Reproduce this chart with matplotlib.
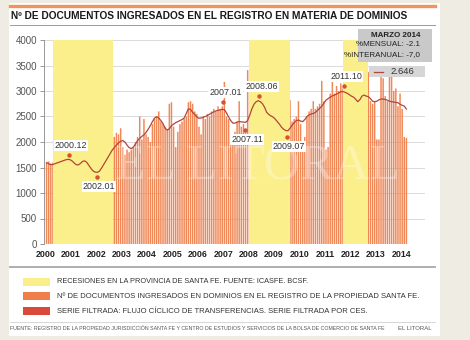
import matplotlib.pyplot as plt
import numpy as np
from matplotlib import font_manager
from matplotlib.patches import Rectangle

# monthly values, Jan 2000 .. Mar 2014
documentos = [
    1600, 1620, 1580, 1600, 1550, 1600, 1650, 1600, 1700, 1650, 1700, 1750,  # 2000
    1600, 1500, 1550, 1600, 1650, 1550, 1600, 1650, 1600, 1550, 1500, 1450,  # 2001
    1300, 1250, 1400, 1450, 1500, 1600, 1650, 1700, 2100, 2180, 2150, 2270,  # 2002
    1900, 1750, 1850, 1800, 1850, 1900, 2000, 2100, 2500, 2050, 2450, 2150,  # 2003
    2100, 2000, 2350, 2450, 2500, 2600, 2400, 2350, 2300, 2250, 2750, 2780,  # 2004
    2300, 1900, 2200, 2350, 2400, 2450, 2500, 2780, 2800, 2750, 2600, 2550,  # 2005
    2300, 2150, 2500, 2450, 2550, 2500, 2600, 2650, 2600, 2700, 2650, 2700,  # 2006
    3180, 2500, 2450, 2100, 2000, 2200, 2400, 2800, 2300, 2350, 2250, 3410,  # 2007
    2500, 2700, 2800, 2850, 2800, 2750, 2650, 2550, 2500, 2450, 2400, 2350,  # 2008
    2400, 2300, 2250, 2200, 2200, 2150, 2200, 2820, 2400, 2450, 2500, 2800,  # 2009
    2350, 1950, 2100, 2500, 2600, 2650, 2800, 2650, 2700, 2750, 3200, 2800,  # 2010
    1850, 1900, 2950, 3200, 2950, 3100, 3000, 3150, 3050, 3000, 2950, 2900,  # 2011
    2900, 2850, 2850, 2800, 2800, 2900, 2950, 2900, 3370, 2800, 2750, 2800,  # 2012
    2050, 2050, 3280, 3250, 2900, 2800, 3310, 3300, 3000, 3050, 2700, 2950,  # 2013
    2650, 2100, 2080,                                                        # 2014
]

serie_filtrada = [
    1595, 1570, 1555, 1560, 1575, 1590, 1605, 1620, 1635, 1650, 1660, 1655,
    1630, 1590, 1555, 1550, 1580, 1620, 1630, 1600, 1540, 1480, 1430, 1410,
    1405, 1430, 1490, 1560, 1630, 1700, 1770, 1840, 1890, 1940, 1985, 2015,
    2030, 2000, 1940, 1890, 1870, 1900, 1960, 2030, 2070, 2110, 2140, 2190,
    2250, 2320, 2400, 2470, 2495, 2470, 2420, 2360, 2270, 2235, 2260, 2320,
    2350, 2380, 2400, 2420, 2440, 2470, 2560, 2650, 2640, 2580, 2540, 2490,
    2465, 2470, 2485, 2500, 2520, 2545, 2570, 2590, 2610, 2620, 2630, 2640,
    2635, 2570, 2490, 2420, 2370, 2370, 2390, 2400, 2395, 2390, 2385, 2420,
    2530, 2650, 2740, 2790, 2810, 2790, 2750, 2680, 2580, 2540, 2510, 2490,
    2450, 2400, 2350, 2290, 2250, 2225, 2220, 2270, 2330, 2380, 2420, 2430,
    2410, 2400, 2440, 2500, 2530, 2550, 2560, 2580, 2620, 2660, 2700, 2760,
    2820, 2850, 2880, 2905, 2920, 2940, 2960, 2985, 2990, 2975, 2955, 2930,
    2900, 2880, 2840, 2790, 2830, 2900, 2920, 2900, 2890, 2850, 2800, 2790,
    2800, 2825, 2845, 2840, 2835, 2820, 2800, 2790, 2785, 2775, 2770, 2740,
    2720, 2703, 2646,
]

recesion_inicio = [2000.31, 2008.00, 2011.71]
recesion_fin = [2002.66, 2009.63, 2012.69]

# turning points marked on the filtered series
puntos_label = ['2000.12', '2002.01', '2007.01', '2007.11', '2008.06', '2009.07', '2011.10']
puntos_x = [2000.92, 2002.02, 2007.0, 2007.85, 2008.42, 2009.5, 2011.75]
puntos_y = [1750, 1320, 2790, 2234, 2907, 2103, 3100]
puntos_arriba = [True, False, True, False, True, False, True]

anios = list(range(2000, 2015))
y_ticks = list(range(0, 4001, 500))

ultimo_valor = '2.646'
resumen = ['MARZO 2014', '%MENSUAL: -2.1', '%INTERANUAL: -7,0']

W, H = 470, 340
BEIGE = '#efece3'
AMARILLO = '#fbef8c'
NARANJA = '#ef8756'
ROJO = '#d94a3a'
LINEA = '#b3453a'

names = {f.name for f in font_manager.fontManager.ttflist}
NARROW = next((n for n in ['Liberation Sans Narrow', 'DejaVu Sans Condensed'] if n in names),
              'Liberation Sans')
SANS = 'Liberation Sans'
plt.rcParams['font.family'] = [SANS, 'DejaVu Sans']


def fx(px):
    return px / W


def fy(py):
    return 1 - py / H


fig = plt.figure(figsize=(W / 100, H / 100), dpi=100)
fig.patch.set_facecolor(BEIGE)
renderer = fig.canvas.get_renderer()


def fit_text(x0, x1, y, s, size, **kw):
    # shrink the font until the string spans no more than x0..x1 pixels
    t = fig.text(fx(x0), fy(y), s, fontsize=size, ha='left', va='center', **kw)
    w = t.get_window_extent(renderer).width
    if w > x1 - x0:
        t.set_fontsize(size * (x1 - x0) / w)
    return t


# white card, orange rule, title rule
fig.patches.append(Rectangle((fx(9), fy(336)), fx(440) - fx(9), fy(3) - fy(336),
                             transform=fig.transFigure, facecolor='white', edgecolor='none', zorder=-1))
fig.add_artist(plt.Line2D([fx(10), fx(435)], [fy(5.5), fy(5.5)], color='#f0935c', lw=2.4))
fit_text(11, 406, 16, 'Nº DE DOCUMENTOS INGRESADOS EN EL REGISTRO EN MATERIA DE DOMINIOS',
         7.6, fontweight='bold', color='#1a1a1a')
fig.add_artist(plt.Line2D([fx(10), fx(435)], [fy(24.5), fy(24.5)], color='#9a9a9a', lw=0.7))

ax = fig.add_axes([fx(44), fy(244), fx(425) - fx(44), fy(40) - fy(244)])
ax.set_facecolor('none')

meses = 2000 + (np.arange(len(documentos)) + 0.5) / 12
barras = ax.bar(meses, documentos, width=0.7 / 12, color=NARANJA, linewidth=0, zorder=2)
for b in barras:
    b.set_snap(False)

for a, b in zip(recesion_inicio, recesion_fin):
    ax.axvspan(a, b, ymin=0, ymax=1, color=AMARILLO, lw=0, zorder=3)

ax.plot(meses, serie_filtrada, color=LINEA, lw=0.9, zorder=5)

for lab, x, y, up in zip(puntos_label, puntos_x, puntos_y, puntos_arriba):
    ax.plot(x, y, 'o', ms=3.2, color='#d4532f', mec='none', zorder=6)
    ax.annotate(lab, (x, y), xytext=(1.5, 6.5 if up else -7), textcoords='offset points',
                ha='center', va='center', fontsize=6.4, color='#333333', zorder=7,
                bbox=dict(boxstyle='square,pad=0.1', fc='white', ec='none'))

ax.set_xlim(1999.94, 2014.94)
ax.set_ylim(0, 4000)
ax.set_yticks(y_ticks)
ax.set_yticklabels([str(v) for v in y_ticks], fontsize=7, color='#555555')
ax.set_xticks(anios)
ax.set_xticklabels([str(a) for a in anios], fontsize=6.4, fontweight='bold', color='#222222')
ax.tick_params(axis='x', length=0, pad=4)
ax.tick_params(axis='y', length=3, width=0.6, color='#888888', pad=2)
ax.grid(axis='y', color='#d4d4d4', lw=0.6, zorder=1)
ax.set_axisbelow(True)
for s in ['top', 'right', 'bottom']:
    ax.spines[s].set_visible(False)
ax.spines['left'].set_color('#888888')
ax.spines['left'].set_linewidth(0.6)

# watermark
ax.text(0.56, 0.38, 'EL LITORAL', transform=ax.transAxes, family='Liberation Serif',
        fontsize=36, color='white', alpha=0.3, ha='center', va='center', zorder=4)

# summary boxes
fig.patches.append(Rectangle((fx(358), fy(62)), fx(432) - fx(358), fy(29) - fy(62),
                             transform=fig.transFigure, facecolor='#c9c9c9', edgecolor='none', zorder=5))
for i, t in enumerate(resumen):
    fig.text(fx(420), fy(35.5 + 9.3 * i), t, fontsize=5.8, family=NARROW,
             fontweight='bold' if i == 0 else 'normal', color='#222222',
             ha='right', va='center', zorder=6)
fig.patches.append(Rectangle((fx(369), fy(77)), fx(425) - fx(369), fy(66) - fy(77),
                             transform=fig.transFigure, facecolor='#d6d6d6', edgecolor='none', zorder=5))
fig.add_artist(plt.Line2D([fx(374), fx(383)], [fy(71.5), fy(71.5)], color=LINEA, lw=0.9, zorder=6))
fig.text(fx(402), fy(71.5), ultimo_valor, fontsize=6.8, color='#333333', ha='center', va='center', zorder=6)

# legend
fig.add_artist(plt.Line2D([fx(10), fx(435)], [fy(267), fy(267)], color='#a8a8a8', lw=1.3))
leyenda = [
    (AMARILLO, 'RECESIONES EN LA PROVINCIA DE SANTA FE. FUENTE: ICASFE. BCSF.', 310),
    ('#f07e4a', 'Nº DE DOCUMENTOS INGRESADOS EN DOMINIOS EN EL REGISTRO DE LA PROPIEDAD SANTA FE.', 418),
    (ROJO, 'SERIE FILTRADA: FLUJO CÍCLICO DE TRANSFERENCIAS. SERIE FILTRADA POR CES.', 366),
]
for i, (c, t, x_end) in enumerate(leyenda):
    yc = 281.5 + 14.8 * i
    fig.patches.append(Rectangle((fx(23), fy(yc + 4)), fx(50) - fx(23), fy(yc - 4) - fy(yc + 4),
                                 transform=fig.transFigure, facecolor=c, edgecolor='none'))
    fit_text(57, x_end, yc, t, 6.6, family=NARROW, color='#333333')

fig.add_artist(plt.Line2D([fx(10), fx(435)], [fy(322), fy(322)], color='#d0d0d0', lw=0.6))
fit_text(10, 385, 329, 'FUENTE: REGISTRO DE LA PROPIEDAD JURISDICCIÓN SANTA FE Y CENTRO DE ESTUDIOS '
         'Y SERVICIOS DE LA BOLSA DE COMERCIO DE SANTA FE', 4.3, family=NARROW, color='#555555')
fig.text(fx(432), fy(329), 'EL LITORAL', fontsize=4.3, family=NARROW, color='#555555',
         ha='right', va='center')

fig.savefig('out.png', dpi=100, facecolor=fig.get_facecolor())
